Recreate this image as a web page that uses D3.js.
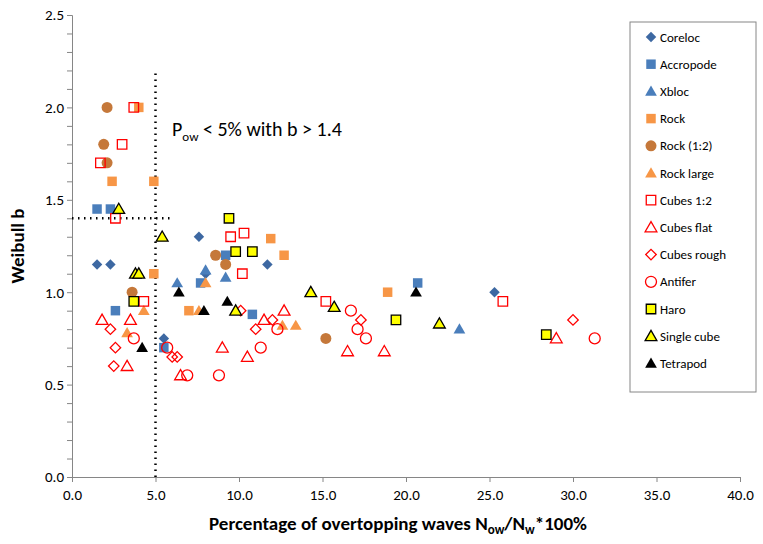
<!DOCTYPE html>
<html><head><meta charset="utf-8">
<script src="https://cdn.jsdelivr.net/npm/d3@7"></script>
<style>body{margin:0;background:#fff}text{font-family:Carlito,"Open Sans","Liberation Sans",sans-serif}</style>
</head><body><svg width="763" height="544"></svg>
<script>
let names = ["Coreloc","Accropode","Xbloc","Rock","Rock (1:2)","Rock large","Cubes 1:2","Cubes flat","Cubes rough","Antifer","Haro","Single cube","Tetrapod"]
let coreloc = [[1.5,1.15],[2.3,1.15],[5.5,0.75],[7.6,1.3],[8.0,1.1],[11.7,1.15],[25.3,1.0]]
let accropode = [[1.5,1.45],[2.3,1.45],[2.6,0.9],[5.5,0.7],[7.7,1.05],[9.2,1.2],[10.8,0.88],[20.7,1.05]]
let xbloc = [[6.3,1.05],[8.0,1.12],[9.2,1.08],[23.2,0.8]]
let rock = [[4.0,2.0],[2.4,1.6],[4.9,1.6],[4.9,1.1],[7.0,0.9],[11.9,1.29],[12.7,1.2],[18.9,1.0]]
let rock12 = [[2.1,2.0],[1.9,1.8],[2.1,1.7],[3.6,1.0],[8.6,1.2],[9.2,1.15],[15.2,0.75]]
let rockLarge = [[3.3,0.78],[4.3,0.9],[7.6,0.9],[8.0,1.05],[12.6,0.82],[13.4,0.82]]
let cubes12 = [[3.7,2.0],[3.0,1.8],[1.7,1.7],[2.6,1.4],[4.3,0.95],[9.5,1.3],[10.3,1.32],[10.2,1.1],[15.2,0.95],[25.8,0.95]]
let cubesFlat = [[1.8,0.85],[3.5,0.85],[3.3,0.6],[6.5,0.55],[9.0,0.7],[10.5,0.65],[11.5,0.85],[12.7,0.9],[16.5,0.68],[18.7,0.68],[29.0,0.75]]
let cubesRough = [[2.3,0.8],[2.6,0.7],[2.5,0.6],[6.0,0.65],[6.3,0.65],[10.1,0.9],[11.0,0.8],[12.0,0.85],[17.3,0.85],[30.0,0.85]]
let antifer = [[3.7,0.75],[5.7,0.7],[6.9,0.55],[8.8,0.55],[11.3,0.7],[12.3,0.8],[16.7,0.9],[17.1,0.8],[17.6,0.75],[31.3,0.75]]
let haro = [[3.7,0.95],[9.4,1.4],[9.8,1.22],[10.8,1.22],[19.4,0.85],[28.4,0.77]]
let singleCube = [[2.8,1.45],[5.4,1.3],[3.8,1.1],[4.0,1.1],[9.8,0.9],[14.3,1.0],[15.7,0.92],[22.0,0.83],[34.8,0.88]]
let tetrapod = [[4.2,0.7],[6.4,1.0],[7.9,0.9],[9.3,0.95],[20.6,1.0]]
let xTicks = [0,5,10,15,20,25,30,35,40]
let yTicks = [0,0.5,1,1.5,2,2.5]

let series = [coreloc,accropode,xbloc,rock,rock12,rockLarge,cubes12,cubesFlat,cubesRough,antifer,haro,singleCube,tetrapod]
// shape, fill, stroke
let styles = [
  ["diamond","#3D68A2","none"],["square","#4A7EBB","none"],["triangle","#4A7EBB","none"],
  ["square","#F79646","none"],["circle","#C5783A","none"],["triangle","#F79646","none"],
  ["square","none","#FF0000"],["triangle","none","#FF0000"],["diamond","none","#FF0000"],
  ["circle","none","#FF0000"],["square","#FFFF00","#000"],["triangle","#FFFF00","#000"],["triangle","#000","none"]]

let svg = d3.select("svg")
let mLeft = 72, mRight = 740, mTop = 15, mBottom = 477
let x = d3.scaleLinear().domain([0,40]).range([mLeft,mRight])
let y = d3.scaleLinear().domain([0,2.5]).range([mBottom,mTop])

let sym = {diamond:[d3.symbolSquare,55], square:[d3.symbolSquare,90], triangle:[d3.symbolTriangle,60], circle:[d3.symbolCircle,95]}
let path = (s) => d3.symbol().type(sym[s][0]).size(sym[s][1])()
let rot = (s) => s == "diamond" ? " rotate(45)" : (s == "triangle" ? " translate(0,1)" : "")

svg.append("g").attr("transform",`translate(0,${mBottom})`)
  .call(d3.axisBottom(x).tickValues(xTicks).tickFormat(d3.format(".1f")).tickSize(5))
  .call(g => g.selectAll("text").attr("font-size",15).attr("fill","#000").attr("dy","1em"))
  .call(g => g.selectAll("line,path").attr("stroke","#868686"))
svg.append("g").attr("transform",`translate(${mLeft},0)`)
  .call(d3.axisLeft(y).tickValues(d3.range(0,2.51,0.1)).tickFormat(d => yTicks.some(t => Math.abs(t-d)<1e-6) ? d3.format(".1f")(d) : "").tickSize(5))
  .call(g => g.selectAll("text").attr("font-size",15).attr("fill","#000"))
  .call(g => g.selectAll("line,path").attr("stroke","#868686"))

// dotted guide lines
svg.append("line").attr("x1",x(5)).attr("x2",x(5)).attr("y1",y(0)).attr("y2",y(2.2))
  .attr("stroke","#000").attr("stroke-width",2.5).attr("stroke-dasharray","1.5,4.5")
svg.append("line").attr("x1",x(0)).attr("x2",x(6)).attr("y1",y(1.4)).attr("y2",y(1.4))
  .attr("stroke","#000").attr("stroke-width",2.5).attr("stroke-dasharray","1.5,4.5")

series.forEach((s,i) => {
  let st = styles[i]
  svg.append("g").selectAll("path").data(s).join("path")
    .attr("d", path(st[0]))
    .attr("transform", d => `translate(${x(d[0])},${y(d[1])})` + rot(st[0]))
    .attr("fill", st[1]).attr("stroke", st[2]).attr("stroke-width", st[2]=="none"?0:1.3)
})

let t = svg.append("text").attr("x",172).attr("y",136).attr("font-size",20)
t.append("tspan").text("P")
t.append("tspan").text("ow").attr("font-size",13).attr("dy",5)
t.append("tspan").text(" < 5% with b > 1.4").attr("dy",-5)

// legend
svg.append("rect").attr("x",630).attr("y",22).attr("width",126).attr("height",370)
  .attr("fill","#fff").attr("stroke","#868686")
let lg = svg.append("g").selectAll("g").data(names).join("g")
  .attr("transform",(d,i) => `translate(651,${37+i*27.2})`)
lg.append("path").attr("d",(d,i) => path(styles[i][0]))
  .attr("transform",(d,i) => rot(styles[i][0]))
  .attr("fill",(d,i) => styles[i][1]).attr("stroke",(d,i) => styles[i][2]).attr("stroke-width",(d,i) => styles[i][2]=="none"?0:1.3)
lg.append("text").attr("x",9).attr("dy","0.35em").attr("font-size",13).text(d => d)

let xl = svg.append("text").attr("x",(mLeft+mRight)/2 - 8).attr("y",530).attr("text-anchor","middle")
  .attr("font-size",19).attr("font-weight","bold")
xl.append("tspan").text("Percentage of overtopping waves N")
xl.append("tspan").text("ow").attr("font-size",13).attr("dy",4)
xl.append("tspan").text("/N").attr("dy",-4)
xl.append("tspan").text("w").attr("font-size",13).attr("dy",4)
xl.append("tspan").text("*100%").attr("dy",-4)
svg.append("text").attr("transform",`translate(24,${(mTop+mBottom)/2}) rotate(-90)`).attr("text-anchor","middle")
  .attr("font-size",19).attr("font-weight","bold").text("Weibull b")
</script></body></html>
